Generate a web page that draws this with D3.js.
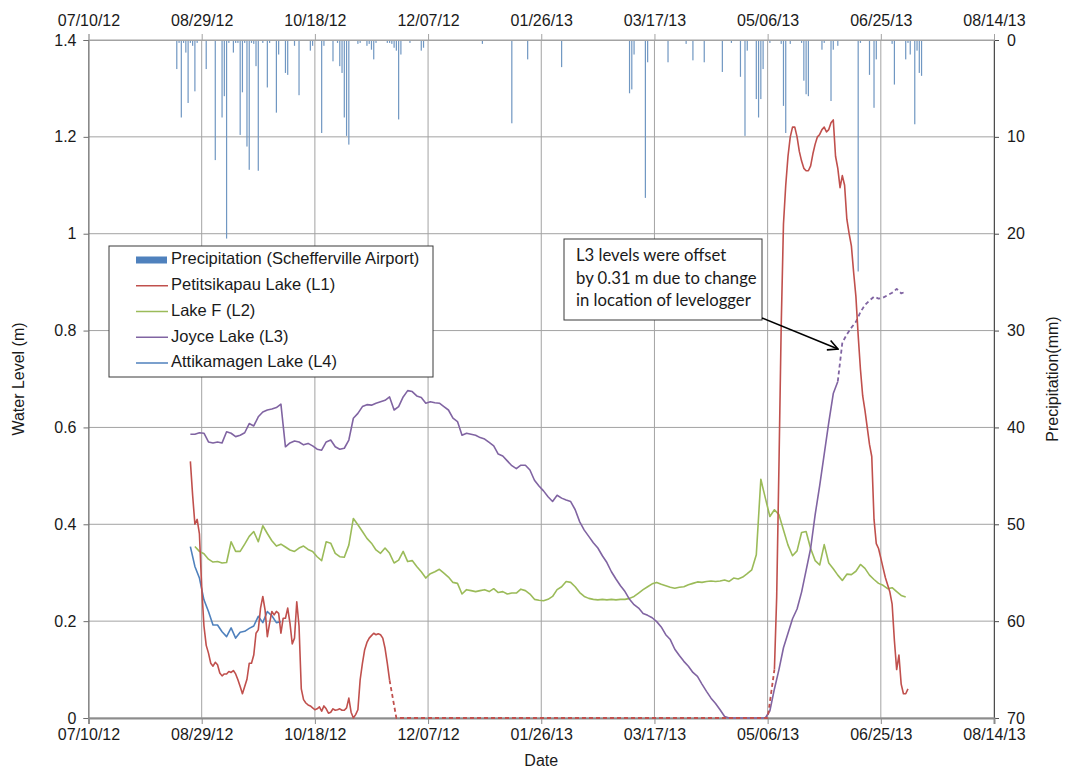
<!DOCTYPE html>
<html>
<head>
<meta charset="utf-8">
<script src="https://cdn.jsdelivr.net/npm/d3@7"></script>
<style>
  body { margin: 0; background: #fff; }
  svg text { font-family: "Liberation Sans", Arial, sans-serif; fill: #1a1a1a; }
  .note text { font-family: Lato, "Open Sans", sans-serif; }
</style>
</head>
<body>
<svg id="chart" width="1068" height="772"></svg>
<script>
// ---- axis ticks ----
const dateTicks = ["07/10/12", "08/29/12", "10/18/12", "12/07/12", "01/26/13",
                   "03/17/13", "05/06/13", "06/25/13", "08/14/13"];
const levelTicks = [0, 0.2, 0.4, 0.6, 0.8, 1, 1.2, 1.4];
const precipTicks = [0, 10, 20, 30, 40, 50, 60, 70];

// ---- daily precipitation, Schefferville Airport (mm) ----
const precipDates = [
  "2012-08-18","2012-08-19","2012-08-20","2012-08-21","2012-08-22","2012-08-23","2012-08-24",
  "2012-08-25","2012-08-26","2012-08-27","2012-08-31","2012-09-04","2012-09-07","2012-09-08",
  "2012-09-09","2012-09-10","2012-09-12","2012-09-13","2012-09-14","2012-09-15","2012-09-16",
  "2012-09-17","2012-09-18","2012-09-19","2012-09-20","2012-09-21","2012-09-22","2012-09-23",
  "2012-09-25","2012-09-27","2012-09-28","2012-10-01","2012-10-02","2012-10-05","2012-10-06",
  "2012-10-09","2012-10-11","2012-10-16","2012-10-17","2012-10-21","2012-10-22","2012-10-26",
  "2012-10-28","2012-10-29","2012-10-30","2012-10-31","2012-11-01","2012-11-02","2012-11-06",
  "2012-11-07","2012-11-10","2012-11-11","2012-11-12","2012-11-13","2012-11-14","2012-11-19",
  "2012-11-20","2012-11-21","2012-11-22","2012-11-23","2012-11-24","2012-11-25","2012-11-29",
  "2012-12-04","2012-12-05","2012-12-31","2013-01-13","2013-01-20","2013-02-04","2013-03-06",
  "2013-03-07","2013-03-08","2013-03-13","2013-03-14","2013-03-23","2013-03-31","2013-04-03",
  "2013-04-08","2013-04-16","2013-04-20","2013-04-24","2013-04-26","2013-04-27","2013-05-01",
  "2013-05-02","2013-05-03","2013-05-04","2013-05-07","2013-05-12","2013-05-13","2013-05-14",
  "2013-05-16","2013-05-21","2013-05-22","2013-05-23","2013-05-24","2013-05-30","2013-05-31",
  "2013-06-03","2013-06-04","2013-06-06","2013-06-15","2013-06-16","2013-06-20","2013-06-22",
  "2013-06-23","2013-06-30","2013-07-01","2013-07-06","2013-07-07","2013-07-08","2013-07-10",
  "2013-07-11","2013-07-12","2013-07-13"
];
const precipMm = [
  3.0, 0.3, 8.0, 0.3, 1.3, 6.5, 0.3,
  0.6, 5.3, 0.3, 3.0, 12.4, 8.0, 5.8,
  20.5, 0.3, 1.3, 0.3, 0.3, 9.8, 5.4,
  0.3, 11.0, 13.4, 0.3, 0.4, 2.7, 13.5,
  0.3, 4.9, 0.3, 7.5, 1.5, 3.4, 3.6,
  0.6, 5.7, 1.1, 0.6, 9.6, 0.6, 2.2,
  0.3, 2.7, 3.4, 8.0, 9.9, 10.8, 0.4,
  0.3, 0.6, 0.4, 1.0, 2.0, 0.3, 0.3,
  0.3, 0.4, 0.8, 1.1, 8.2, 1.5, 0.3,
  1.1, 0.8, 0.4, 8.6, 2.0, 2.8, 5.5,
  5.1, 1.5, 16.3, 2.3, 2.3, 0.4, 2.1,
  2.3, 3.3, 0.3, 3.8, 9.9, 1.1, 6.1,
  8.0, 6.1, 3.0, 0.3, 0.4, 6.8, 9.6,
  0.4, 0.3, 4.2, 5.6, 5.8, 1.0, 0.3,
  6.3, 1.0, 0.6, 23.9, 0.3, 3.6, 7.0,
  2.0, 0.4, 4.6, 2.0, 0.3, 1.5, 8.7,
  1.1, 3.4, 3.7
];

// ---- Petitsikapau Lake (L1), daily readings (m) ----
const l1Start = "2012-08-24";
const l1Values = [
  0.53, 0.46, 0.40, 0.41, 0.38, 0.27, 0.19, 0.15, 0.134, 0.113,
  0.107, 0.115, 0.110, 0.093, 0.087, 0.091, 0.091, 0.096, 0.094, 0.098,
  0.091, 0.079, 0.065, 0.050, 0.065, 0.080, 0.113, 0.113, 0.130, 0.175,
  0.182, 0.227, 0.251, 0.223, 0.168, 0.196, 0.220, 0.213, 0.220, 0.216,
  0.175, 0.206, 0.206, 0.227, 0.196, 0.153, 0.165, 0.240, 0.190, 0.060,
  0.038, 0.031, 0.027, 0.025, 0.021, 0.017, 0.019, 0.023, 0.014, 0.025,
  0.019, 0.010, 0.012, 0.019, 0.016, 0.017, 0.019, 0.016, 0.016, 0.021,
  0.041, 0.012, 0.000, 0.007, 0.017, 0.079, 0.113, 0.141, 0.156, 0.165,
  0.170, 0.175, 0.172, 0.174, 0.172, 0.165, 0.144, 0.113, 0.078
];
const l1bStart = "2013-05-09";
const l1bValues = [
  0.10, 0.25, 0.52, 0.81, 1.02, 1.10, 1.16, 1.20, 1.22, 1.22,
  1.20, 1.17, 1.15, 1.135, 1.13, 1.13, 1.14, 1.165, 1.185, 1.20,
  1.205, 1.215, 1.22, 1.21, 1.215, 1.229, 1.235, 1.16, 1.135, 1.095,
  1.12, 1.10, 1.03, 1.00, 0.975, 0.92, 0.87, 0.79, 0.72, 0.665,
  0.635, 0.60, 0.565, 0.54, 0.41, 0.36, 0.35, 0.33, 0.31, 0.29,
  0.275, 0.26, 0.235, 0.16, 0.10, 0.13, 0.07, 0.05, 0.05, 0.06
];
// frozen period, estimated
const l1EstDates = ["2012-11-20", "2012-11-23", "2013-05-06", "2013-05-09"];
const l1EstValues = [0.078, 0, 0, 0.10];

// ---- Lake F (L2), every second day (m) ----
const l2Start = "2012-08-26";
const l2Values = [
  0.354, 0.344, 0.339, 0.328, 0.322, 0.323, 0.320, 0.321, 0.364, 0.344,
  0.344, 0.359, 0.375, 0.385, 0.364, 0.397, 0.381, 0.366, 0.355, 0.359,
  0.353, 0.347, 0.344, 0.351, 0.355, 0.348, 0.344, 0.333, 0.325, 0.364,
  0.361, 0.340, 0.333, 0.332, 0.357, 0.412, 0.399, 0.385, 0.371, 0.361,
  0.347, 0.340, 0.351, 0.340, 0.320, 0.326, 0.344, 0.323, 0.325, 0.313,
  0.302, 0.289, 0.298, 0.302, 0.307, 0.299, 0.291, 0.280, 0.278, 0.256,
  0.265, 0.263, 0.261, 0.263, 0.265, 0.261, 0.267, 0.259, 0.261, 0.256,
  0.258, 0.258, 0.266, 0.263, 0.256, 0.245, 0.243, 0.242, 0.245, 0.251,
  0.265, 0.271, 0.282, 0.280, 0.271, 0.259, 0.251, 0.247, 0.245, 0.244,
  0.245, 0.244, 0.245, 0.244, 0.245, 0.245, 0.247, 0.251, 0.258, 0.265,
  0.271, 0.277, 0.280, 0.276, 0.273, 0.270, 0.268, 0.270, 0.271, 0.275,
  0.278, 0.281, 0.280, 0.282, 0.283, 0.282, 0.283, 0.285, 0.282, 0.289,
  0.287, 0.291, 0.298, 0.306, 0.337, 0.493, 0.454, 0.416, 0.430, 0.420,
  0.388, 0.357, 0.335, 0.345, 0.383, 0.385, 0.350, 0.325, 0.316, 0.358,
  0.320, 0.308, 0.295, 0.284, 0.297, 0.296, 0.303, 0.317, 0.309, 0.295,
  0.286, 0.278, 0.274, 0.267, 0.269, 0.261, 0.253, 0.250
];

// ---- Joyce Lake (L3), every second day (m) ----
const l3Start = "2012-08-24";
const l3Values = [
  0.586, 0.586, 0.589, 0.588, 0.570, 0.568, 0.570, 0.568, 0.591, 0.588,
  0.581, 0.584, 0.589, 0.608, 0.603, 0.622, 0.632, 0.636, 0.638, 0.641,
  0.648, 0.560, 0.568, 0.572, 0.570, 0.564, 0.567, 0.562, 0.555, 0.553,
  0.570, 0.574, 0.560, 0.555, 0.557, 0.574, 0.619, 0.629, 0.643, 0.647,
  0.646, 0.650, 0.653, 0.656, 0.663, 0.636, 0.643, 0.663, 0.676, 0.674,
  0.665, 0.662, 0.650, 0.653, 0.651, 0.650, 0.643, 0.636, 0.619, 0.612,
  0.584, 0.588, 0.586, 0.584, 0.579, 0.576, 0.569, 0.562, 0.545, 0.541,
  0.531, 0.521, 0.515, 0.522, 0.522, 0.512, 0.491, 0.479, 0.469, 0.457,
  0.447, 0.460, 0.454, 0.450, 0.447, 0.430, 0.405, 0.388, 0.375, 0.362,
  0.351, 0.335, 0.321, 0.302, 0.287, 0.273, 0.261, 0.245, 0.234, 0.227,
  0.216, 0.212, 0.207, 0.199, 0.188, 0.172, 0.162, 0.142, 0.129, 0.117,
  0.107, 0.094, 0.086, 0.070, 0.055, 0.041, 0.030, 0.017, 0.003, 0,
  0, 0, 0, 0, 0, 0, 0, 0, 0.015, 0.06,
  0.10, 0.145, 0.175, 0.205, 0.225, 0.26, 0.305, 0.35, 0.42, 0.48,
  0.545, 0.61, 0.67, 0.695
];
// readings after the levelogger was moved (offset by 0.31 m)
const l3OffsetStart = "2013-06-06";
const l3OffsetValues = [
  0.695, 0.775, 0.792, 0.806, 0.818, 0.838, 0.853, 0.862, 0.870, 0.866,
  0.868, 0.873, 0.878, 0.886, 0.877, 0.880
];

// ---- Attikamagen Lake (L4), every second day (m) ----
const l4Start = "2012-08-24";
const l4Values = [
  0.354, 0.313, 0.289, 0.244, 0.220, 0.192, 0.192, 0.178, 0.168, 0.186,
  0.165, 0.177, 0.179, 0.185, 0.190, 0.210, 0.197, 0.220, 0.211, 0.197,
  0.199
];

const legendLabels = ["Precipitation (Schefferville Airport)", "Petitsikapau Lake (L1)",
                      "Lake F (L2)", "Joyce Lake (L3)", "Attikamagen Lake (L4)"];
const noteLines = ["L3 levels were offset", "by 0.31 m due to change", "in location of levelogger"];

// ---- build ----
const parseIso = d3.utcParse("%Y-%m-%d");
const parseTick = d3.utcParse("%m/%d/%y");
const fmtTick = d3.utcFormat("%m/%d/%y");

function series(start, stepDays, values) {
  const t0 = parseIso(start);
  return values.map((v, i) => ({ date: d3.utcDay.offset(t0, i * stepDays), value: v }));
}
function pairs(dates, values) {
  return dates.map((d, i) => ({ date: parseIso(d), value: values[i] }));
}

const svg = d3.select("#chart");
const W = 1068, H = 772;
const m = { left: 88.5, right: 74, top: 40, bottom: 54 };
const plotL = m.left, plotR = W - m.right, plotT = m.top, plotB = H - m.bottom;

const tickDates = dateTicks.map(parseTick);
const x = d3.scaleUtc().domain([tickDates[0], tickDates[tickDates.length - 1]]).range([plotL, plotR]);
const y = d3.scaleLinear().domain([0, 1.4]).range([plotB, plotT]);
const yp = d3.scaleLinear().domain([0, 70]).range([plotT, plotB]);

const gridColor = "#a3a3a3";

// grid
const grid = svg.append("g");
grid.selectAll("line.h").data(levelTicks).join("line")
  .attr("x1", plotL).attr("x2", plotR)
  .attr("y1", d => y(d)).attr("y2", d => y(d))
  .attr("stroke", gridColor).attr("stroke-width", 1);
grid.selectAll("line.v").data(tickDates).join("line")
  .attr("x1", d => x(d)).attr("x2", d => x(d))
  .attr("y1", plotT).attr("y2", plotB)
  .attr("stroke", gridColor).attr("stroke-width", 1);

// precipitation bars hanging from the top
const precip = pairs(precipDates, precipMm);
svg.append("g").selectAll("rect").data(precip).join("rect")
  .attr("x", d => x(d.date) - 0.6)
  .attr("width", 1.2)
  .attr("y", plotT)
  .attr("height", d => yp(d.value) - plotT)
  .attr("fill", "#7097c2");

// axes
function styleAxis(g, col) {
  g.select(".domain").attr("stroke", col);
  g.selectAll(".tick line").attr("stroke", col);
  g.selectAll(".tick text").attr("font-size", 16).attr("fill", "#1a1a1a")
    .attr("font-family", '"Liberation Sans", Arial, sans-serif');
}
const axL = svg.append("g").attr("transform", `translate(${plotL},0)`)
  .call(d3.axisLeft(y).tickValues(levelTicks).tickFormat(d3.format("~g")).tickSize(5).tickPadding(7));
styleAxis(axL, "#6e6e6e");

const axR = svg.append("g").attr("transform", `translate(${plotR},0)`)
  .call(d3.axisRight(yp).tickValues(precipTicks).tickSize(5).tickPadding(8));
styleAxis(axR, "#4d4d4d");

const axB = svg.append("g").attr("transform", `translate(0,${plotB})`)
  .call(d3.axisBottom(x).tickValues(tickDates).tickFormat(fmtTick).tickSize(6).tickPadding(5));
styleAxis(axB, "#8c8c8c");
axB.select(".domain").attr("stroke-width", 2);

const axT = svg.append("g").attr("transform", `translate(0,${plotT})`)
  .call(d3.axisTop(x).tickValues(tickDates).tickFormat(fmtTick).tickSize(6).tickPadding(8));
styleAxis(axT, gridColor);

// lake level lines
const line = d3.line().x(d => x(d.date)).y(d => y(d.value));
const plotLines = svg.append("g").attr("fill", "none").attr("stroke-linejoin", "round");

const c1 = "#c0504d", c2 = "#9bbb59", c3 = "#8064a2", c4 = "#4f81bd";

plotLines.append("path").datum(series(l2Start, 2, l2Values)).attr("d", line)
  .attr("stroke", c2).attr("stroke-width", 1.6);
plotLines.append("path").datum(series(l3Start, 2, l3Values)).attr("d", line)
  .attr("stroke", c3).attr("stroke-width", 1.6);
plotLines.append("path").datum(series(l3OffsetStart, 2, l3OffsetValues)).attr("d", line)
  .attr("stroke", c3).attr("stroke-width", 1.8).attr("stroke-dasharray", "4,3");
plotLines.append("path").datum(series(l4Start, 2, l4Values)).attr("d", line)
  .attr("stroke", c4).attr("stroke-width", 1.6);
plotLines.append("path").datum(pairs(l1EstDates, l1EstValues)).attr("d", line)
  .attr("stroke", c1).attr("stroke-width", 1.8).attr("stroke-dasharray", "4,3");
plotLines.append("path").datum(series(l1Start, 1, l1Values)).attr("d", line)
  .attr("stroke", c1).attr("stroke-width", 1.6);
plotLines.append("path").datum(series(l1bStart, 1, l1bValues)).attr("d", line)
  .attr("stroke", c1).attr("stroke-width", 1.6);

// axis titles
svg.append("text").attr("transform", `translate(20,${(plotT + plotB) / 2}) rotate(-90)`)
  .attr("text-anchor", "middle").attr("dominant-baseline", "middle")
  .attr("font-size", 16).text("Water Level (m)");
svg.append("text").attr("transform", `translate(1054,${(plotT + plotB) / 2}) rotate(-90)`)
  .attr("text-anchor", "middle").attr("dominant-baseline", "middle")
  .attr("font-size", 16).text("Precipitation(mm)");
svg.append("text").attr("x", (plotL + plotR) / 2).attr("y", 762)
  .attr("text-anchor", "middle").attr("dominant-baseline", "middle")
  .attr("font-size", 16).text("Date");

// legend
const lg = svg.append("g").attr("transform", "translate(109,246)");
lg.append("rect").attr("width", 324).attr("height", 131)
  .attr("fill", "#fff").attr("stroke", "#3a3a3a").attr("stroke-width", 1);
const legendColors = ["#4f81bd", c1, c2, c3, c4];
legendLabels.forEach((lab, i) => {
  const yy = 14 + i * 25.75;
  if (i === 0) {
    lg.append("rect").attr("x", 27).attr("y", yy - 3.5).attr("width", 31).attr("height", 7)
      .attr("fill", legendColors[i]);
  } else {
    lg.append("line").attr("x1", 27).attr("x2", 59).attr("y1", yy).attr("y2", yy)
      .attr("stroke", legendColors[i]).attr("stroke-width", 1.5);
  }
  lg.append("text").attr("x", 62).attr("y", yy).attr("dominant-baseline", "middle")
    .attr("font-size", 16.5).text(lab);
});

// annotation
const note = svg.append("g").attr("class", "note");
note.append("rect").attr("x", 564).attr("y", 239).attr("width", 198).attr("height", 81)
  .attr("fill", "#fff").attr("stroke", "#3a3a3a").attr("stroke-width", 1);
noteLines.forEach((t, i) => {
  note.append("text").attr("x", 576).attr("y", 257 + i * 22.5)
    .attr("dominant-baseline", "middle").attr("font-size", 16.7).text(t);
});
svg.append("defs").append("marker").attr("id", "arrow")
  .attr("viewBox", "0 0 12 12").attr("refX", 11).attr("refY", 6)
  .attr("markerWidth", 12).attr("markerHeight", 12).attr("markerUnits", "userSpaceOnUse")
  .attr("orient", "auto")
  .append("path").attr("d", "M1,1 L11,6 L1,11").attr("fill", "none")
  .attr("stroke", "#000").attr("stroke-width", 1.6);
svg.append("line").attr("x1", 762).attr("y1", 318).attr("x2", 838).attr("y2", 349)
  .attr("stroke", "#000").attr("stroke-width", 1.6).attr("marker-end", "url(#arrow)");
</script>
</body>
</html>
